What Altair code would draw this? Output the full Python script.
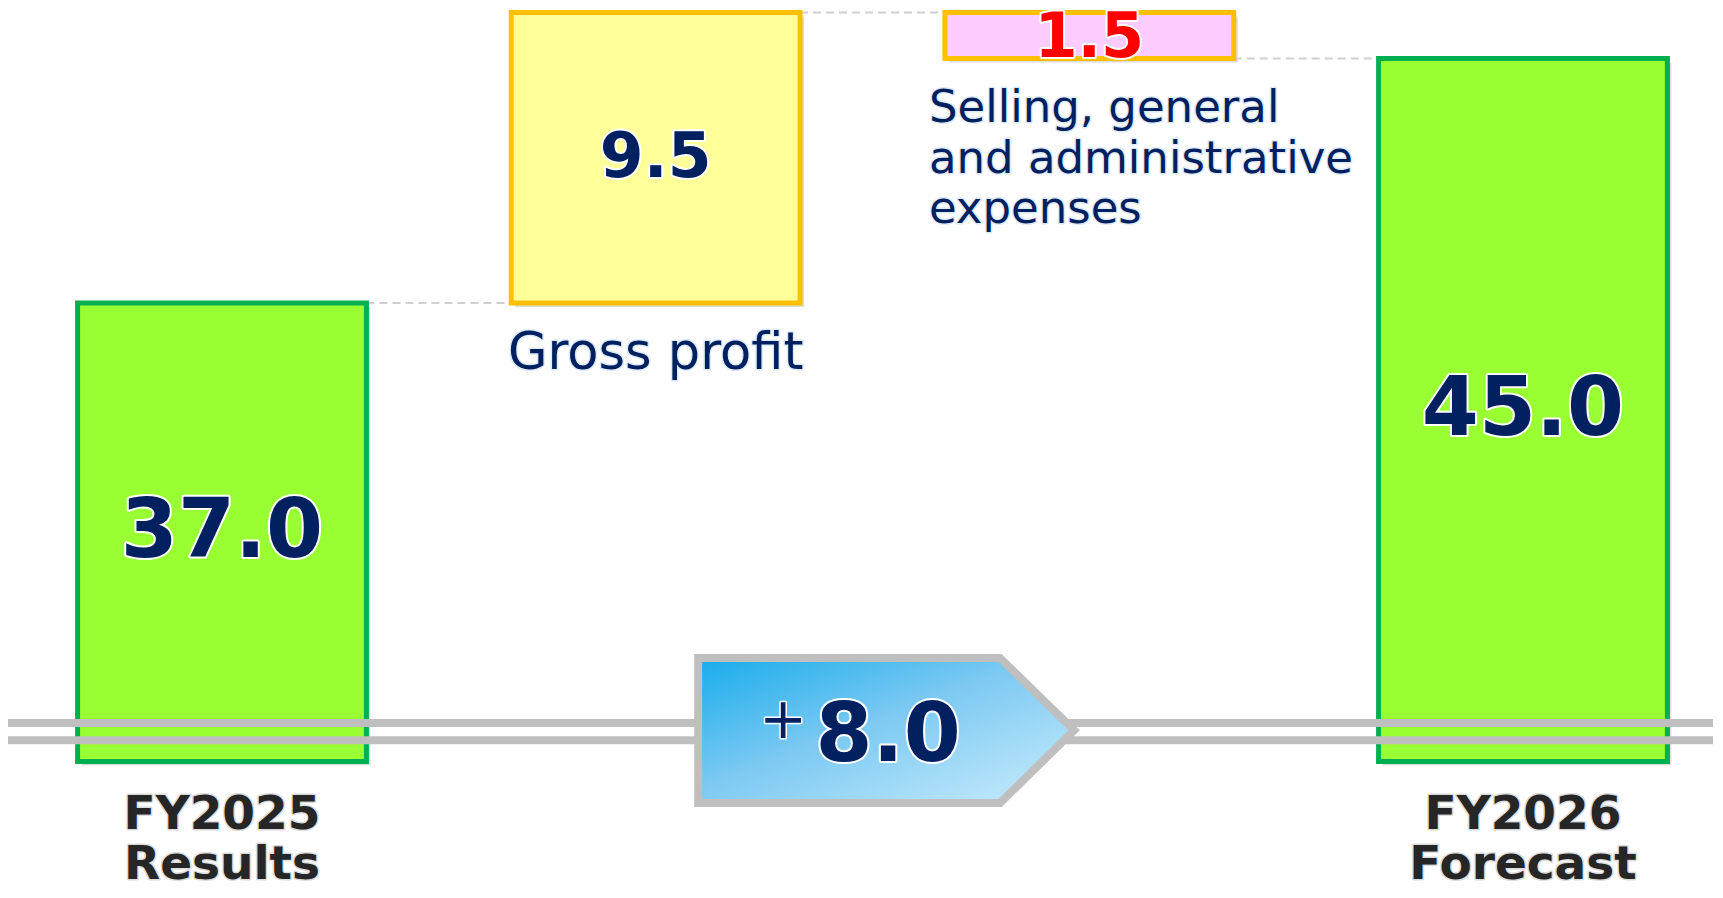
import altair as alt
import pandas as pd

# ---------------- data ----------------
categories = ["FY2025\nResults", "Gross profit",
              "Selling, general\nand administrative\nexpenses", "FY2026\nForecast"]
kinds = ["total", "increase", "decrease", "total"]
values = [37.0, 9.5, -1.5, 45.0]
axis_floor = 22.0                 # value where the broken axis starts
break_levels = [23.26, 22.70]     # the double "axis break" lines
arrow_x = [1.098, 1.794, 1.965]   # change arrow outline (slot units)
arrow_top = [25.39, 25.39, 23.02]
arrow_bottom = [20.64, 20.64, 23.02]

HALF = 0.333
W, H = 1723, 898
X_DOMAIN = [-0.5119, 3.4612]
Y_DOMAIN = [17.536, 46.912]
FONT = "DejaVu Sans"
NAVY = "#002060"

rows = []
level = 0.0
for i, (c, k, v) in enumerate(zip(categories, kinds, values)):
    if k == "total":
        start, end = axis_floor, v
    else:
        start, end = level, level + v
    level = end
    rows.append({"i": i, "cat": c, "kind": k, "start": start, "end": end,
                 "lo": min(start, end), "mid": (start + end) / 2,
                 "label": f"{abs(v):.1f}"})
bars = pd.DataFrame(rows)
bars["x1"] = bars["i"] - HALF
bars["x2"] = bars["i"] + HALF

conn = pd.DataFrame({"x1": bars["x2"].values[:-1],
                     "x2": bars["x1"].values[1:],
                     "y": bars["end"].values[:-1]})
breaks = pd.DataFrame({"y": break_levels})
arrow = pd.DataFrame({"x": arrow_x, "top": arrow_top, "bottom": arrow_bottom})
delta = values[-1] - values[0]
delta_df = pd.DataFrame({"x": [(arrow_x[0] + arrow_x[1]) / 2],
                         "y": [(arrow_top[0] + arrow_bottom[0]) / 2],
                         "num": [f"{abs(delta):.1f}"],
                         "sign": ["+" if delta >= 0 else "\u2212"]})

xs = alt.Scale(domain=X_DOMAIN, nice=False, zero=False)
ys = alt.Scale(domain=Y_DOMAIN, nice=False, zero=False)


def X(f):
    return alt.X(f, scale=xs, axis=None)


def Y(f):
    return alt.Y(f, scale=ys, axis=None)


def halo_text(base, halo, hw, enc, **kw):
    h = base.mark_text(stroke=halo, strokeWidth=hw, strokeJoin="round", **kw).encode(**enc)
    t = base.mark_text(**kw).encode(**enc)
    return [h, t]


kind_dom = ["total", "increase", "decrease"]

shadow = alt.Chart(bars).mark_rect(
    color="#BFBFBF", opacity=0.55, xOffset=4, x2Offset=4, yOffset=4, y2Offset=4
).encode(x=X("x1:Q"), x2="x2:Q", y=Y("start:Q"), y2="end:Q")

connectors = alt.Chart(conn).mark_rule(
    color="#D0D0D0", strokeWidth=2, strokeDash=[8, 5]
).encode(x=X("x1:Q"), x2="x2:Q", y=Y("y:Q"))

bar_layer = alt.Chart(bars).mark_rect(strokeWidth=5).encode(
    x=X("x1:Q"), x2="x2:Q", y=Y("start:Q"), y2="end:Q",
    fill=alt.Fill("kind:N", scale=alt.Scale(domain=kind_dom,
                  range=["#99FF33", "#FFFF99", "#FFCCFF"]), legend=None),
    stroke=alt.Stroke("kind:N", scale=alt.Scale(domain=kind_dom,
                      range=["#00B050", "#FFC000", "#FFC000"]), legend=None),
)

break_layer = alt.Chart(breaks).mark_rule(color="#BFBFBF", strokeWidth=8).encode(
    y=Y("y:Q"))

grad = alt.Gradient(
    gradient="linear",
    stops=[alt.GradientStop(color="#17ACEB", offset=0),
           alt.GradientStop(color="#7CC9F2", offset=0.45),
           alt.GradientStop(color="#CBEDFC", offset=1)],
    x1=0, y1=0, x2=1, y2=1)

arrow_layer = alt.Chart(arrow).mark_area(
    fill=grad, stroke="#BFBFBF", strokeWidth=8, strokeJoin="miter", interpolate="linear"
).encode(x=X("x:Q"), y=Y("top:Q"), y2="bottom:Q")

layers = [shadow, connectors, bar_layer, break_layer, arrow_layer]

# value labels
tot = alt.Chart(bars).transform_filter("datum.kind == 'total'")
inc = alt.Chart(bars).transform_filter("datum.kind == 'increase'")
dec = alt.Chart(bars).transform_filter("datum.kind == 'decrease'")

venc = dict(x=X("i:Q"), y=Y("mid:Q"), text="label:N")
layers += halo_text(tot, "white", 4, venc, font=FONT, fontSize=82, fontWeight="bold",
                    color=NAVY, align="center", baseline="middle")
layers += halo_text(inc, "white", 4, venc, font=FONT, fontSize=63, fontWeight="bold",
                    color=NAVY, align="center", baseline="middle")
layers += halo_text(dec, "white", 4, venc, font=FONT, fontSize=62, fontWeight="bold",
                    color="#FF0000", align="center", baseline="middle", dy=2)

# category labels
layers += halo_text(tot, "#DCDCDC", 3, dict(x=X("i:Q"), y=Y("start:Q"), text="cat:N"),
                    font=FONT, fontSize=47, fontWeight="bold", color="#262626",
                    align="center", baseline="alphabetic", lineBreak="\n",
                    lineHeight=50, dy=67)
layers += halo_text(inc, "#DDEBF7", 3, dict(x=X("i:Q"), y=Y("lo:Q"), text="cat:N"),
                    font=FONT, fontSize=51, color=NAVY, align="center",
                    baseline="alphabetic", dy=66)
layers += halo_text(dec, "#DDEBF7", 3, dict(x=X("x1:Q"), y=Y("lo:Q"), text="cat:N"),
                    font=FONT, fontSize=45, color=NAVY, align="left",
                    baseline="alphabetic", lineBreak="\n", lineHeight=50.5, dx=-16, dy=64)

# change label inside the arrow
dch = alt.Chart(delta_df)
layers += halo_text(dch, "white", 4, dict(x=X("x:Q"), y=Y("y:Q"), text="num:N"),
                    font=FONT, fontSize=82, fontWeight="bold", color=NAVY,
                    align="center", baseline="middle", dx=39, dy=5)
layers += halo_text(dch, "white", 3, dict(x=X("x:Q"), y=Y("y:Q"), text="sign:N"),
                    font=FONT, fontSize=57, color=NAVY,
                    align="center", baseline="middle", dx=-66, dy=-10)

chart = alt.layer(*layers).properties(
    width=W, height=H,
    padding={"left": -8, "top": -8, "right": -10, "bottom": -15},
    autosize=alt.AutoSizeParams(type="none"),
    background="white",
).configure_view(stroke=None)

chart.save("out.html", embed_options={"renderer": "svg", "actions": False})
